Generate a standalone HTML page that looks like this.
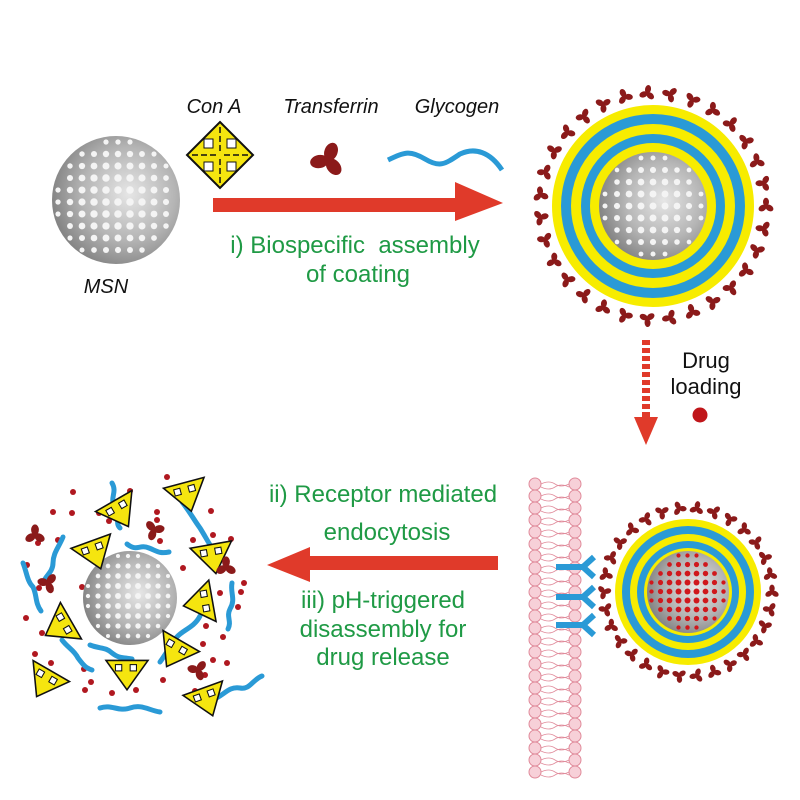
<!DOCTYPE html>
<html><head><meta charset="utf-8"><style>
html,body{margin:0;padding:0;background:#fff;width:800px;height:800px;overflow:hidden}
svg{display:block}
.it{font-family:"Liberation Sans",sans-serif;font-style:italic;font-size:20px;fill:#111}
.gr{font-family:"Liberation Sans",sans-serif;font-size:24px;fill:#1f9a45}
.bk{font-family:"Liberation Sans",sans-serif;font-size:22px;fill:#111}
</style></head><body>
<svg id="s" width="800" height="800" viewBox="0 0 800 800" xmlns="http://www.w3.org/2000/svg">
<defs>
<radialGradient id="sph" cx="0.6" cy="0.45" r="0.6">
<stop offset="0" stop-color="#e6e6e6"/><stop offset="0.6" stop-color="#b5b5b5"/><stop offset="1" stop-color="#858585"/>
</radialGradient>
<g id="tf" fill="#8b1a1a"><ellipse cx="0" cy="-4" rx="3" ry="4.2"/><ellipse cx="0" cy="-4" rx="3" ry="4.2" transform="rotate(120)"/><ellipse cx="0" cy="-4" rx="3" ry="4.2" transform="rotate(240)"/><circle r="2"/></g>
<g id="tri"><polygon points="-20,-12 20,-12 0,16" fill="#f5e50f" stroke="#111" stroke-width="1.5"/><rect x="-11" y="-8" width="6" height="6" fill="#fff" stroke="#111"/><rect x="3" y="-8" width="6" height="6" fill="#fff" stroke="#111"/></g>
</defs>
<g id="root"></g>

<text class="it" x="214" y="113" text-anchor="middle">Con A</text>
<text class="it" x="331" y="113" text-anchor="middle">Transferrin</text>
<text class="it" x="457" y="113" text-anchor="middle">Glycogen</text>
<text class="it" x="106" y="293" text-anchor="middle">MSN</text>

<g transform="translate(220,155)">
<polygon points="0,-33 33,0 0,33 -33,0" fill="#f5e50f" stroke="#111" stroke-width="2"/>
<path d="M0,-28V-4M0,4V28M-28,0H-4M4,0H28" stroke="#111" stroke-width="1.5" stroke-dasharray="6,3"/>
<rect x="-16" y="-16" width="9" height="9" fill="#fff" stroke="#111"/><rect x="7" y="-16" width="9" height="9" fill="#fff" stroke="#111"/>
<rect x="-16" y="7" width="9" height="9" fill="#fff" stroke="#111"/><rect x="7" y="7" width="9" height="9" fill="#fff" stroke="#111"/>
</g>
<use href="#tf" transform="translate(328,160) rotate(20) scale(2.2)"/>
<path d="M388,160 C405,152 410,150 425,159 C440,168 445,164 460,154 C475,147 490,152 502,170" fill="none" stroke="#2a9ad6" stroke-width="5"/>

<polygon points="213,198 455,198 455,182 503,203 455,221 455,212 213,212" fill="#e03a2a"/>
<text class="gr" x="355" y="253" text-anchor="middle">i) Biospecific&#160; assembly</text>
<text class="gr" x="358" y="282" text-anchor="middle">of coating</text>

<path d="M646,340 V418" stroke="#e03a2a" stroke-width="8" stroke-dasharray="5,3"/>
<polygon points="634,417 658,417 646,445" fill="#e03a2a"/>
<text class="bk" x="706" y="368" text-anchor="middle">Drug</text>
<text class="bk" x="706" y="394" text-anchor="middle">loading</text>
<circle cx="700" cy="415" r="7.5" fill="#c0161a"/>

<polygon points="498,556 310,556 310,547 267,565 310,582 310,570 498,570" fill="#e03a2a"/>
<text class="gr" x="383" y="502" text-anchor="middle">ii) Receptor mediated</text>
<text class="gr" x="387" y="540" text-anchor="middle">endocytosis</text>
<text class="gr" x="383" y="608" text-anchor="middle">iii) pH-triggered</text>
<text class="gr" x="383" y="637" text-anchor="middle">disassembly for</text>
<text class="gr" x="383" y="665" text-anchor="middle">drug release</text>
</svg>
<script>
var R=document.getElementById('root'),NS='http://www.w3.org/2000/svg';
function el(t,a,p){var e=document.createElementNS(NS,t);for(var k in a)e.setAttribute(k,a[k]);(p||R).appendChild(e);return e;}
function sphere(cx,cy,r,dotCol,step,dr){
 el('circle',{cx:cx,cy:cy,r:r,fill:'url(#sph)'});
 for(var y=-r;y<=r;y+=step)for(var x=-r;x<=r;x+=step){var d=Math.hypot(x+step/2,y+step/2);if(d<r-3)el('circle',{cx:cx+x+step/2,cy:cy+y+step/2,r:dr*(1-0.4*Math.pow(d/r,3)),fill:dotCol});}
}
sphere(116,200,64,'#f4f4f4',12,3.8);
function coated(cx,cy,rings,inner,dotCol,step,dr,tfR,n,sc){
 var cols=['#f7ec00','#2a9ad6','#f7ec00','#2a9ad6','#f7ec00'];
 for(var i=0;i<rings.length;i++)el('circle',{cx:cx,cy:cy,r:rings[i],fill:cols[i]});
 sphere(cx,cy,inner,dotCol,step,dr);
 for(var k=0;k<n;k++){var a=k/n*2*Math.PI;el('use',{href:'#tf',transform:'translate('+(cx+tfR*Math.cos(a))+','+(cy+tfR*Math.sin(a))+') rotate('+(k*37)+') scale('+sc+')'});}
}
coated(653,206,[101,92,82,72,63],54,'#f4f4f4',12,3.5,113,31,1.0);
for(var y=484;y<780;y+=12){
 el('circle',{cx:535,cy:y,r:6,fill:'#f7d0d8',stroke:'#e08a9a','stroke-width':1});
 el('circle',{cx:575,cy:y,r:6,fill:'#f7d0d8',stroke:'#e08a9a','stroke-width':1});
 el('path',{d:'M541,'+y+' q8,-4 14,0 t14,0 M541,'+(y+3)+' q8,4 14,0 t14,0',fill:'none',stroke:'#e08a9a','stroke-width':0.8});
}
coated(688,592,[73,66,58,51,44],41,'#d0181c',9,3,84,30,0.9);
[567,597,625].forEach(function(y){el('path',{d:'M556,'+y+' H583 L594,'+(y-10)+' M583,'+y+' L594,'+(y+10),fill:'none',stroke:'#2a9ad6','stroke-width':6});});
var dots=[[73,492],[167,477],[130,491],[53,512],[72,513],[99,513],[157,512],[157,520],[160,541],[211,511],[213,535],[193,540],[231,539],[38,543],[58,540],[109,521],[27,565],[39,588],[82,587],[26,618],[42,633],[57,627],[35,654],[51,663],[52,681],[84,669],[85,690],[91,682],[112,693],[136,690],[131,678],[163,680],[195,691],[205,675],[213,660],[223,637],[241,592],[220,593],[206,626],[180,647],[227,663],[203,644],[238,607],[244,583],[183,568],[222,569],[196,600]];
dots.forEach(function(d){el('circle',{cx:d[0],cy:d[1],r:3,fill:'#b01820'});});
sphere(130,598,47,'#f4f4f4',10,3);
var waves=["M112,483 c6,10 -4,16 4,25 c6,8 -2,14 4,20","M182,502 c8,10 12,18 18,26 c5,8 8,14 12,20","M127,544 c10,8 12,0 22,4 c8,3 10,6 20,4","M63,537 c-4,10 -10,16 -10,26 c0,8 -6,12 -8,16","M23,563 c4,10 4,18 10,24 c4,8 2,16 8,24","M232,583 c-2,10 4,16 -2,26 c-4,8 2,12 -2,20","M200,616 c-6,12 -18,14 -24,22 c-6,8 -10,16 -16,24","M62,640 c6,8 12,10 16,18 c6,8 8,10 14,12","M90,645 c10,4 16,2 22,8 c8,6 10,4 20,6","M100,708 c12,-4 18,4 30,0 c12,-4 18,2 30,4","M212,700 c12,-4 16,-14 28,-12 c10,2 12,-8 22,-12"];
waves.forEach(function(d){el('path',{d:d,fill:'none',stroke:'#2a9ad6','stroke-width':5,'stroke-linecap':'round'});});
var tris=[[120,512,-30],[95,553,-20],[187,495,-15],[213,557,-10],[60,627,60],[200,603,80],[175,652,30],[45,682,30],[127,673,0],[207,700,-20]];
tris.forEach(function(t){el('use',{href:'#tri',transform:'translate('+t[0]+','+t[1]+') rotate('+t[2]+') scale(1.05)'});});
[[35,535],[48,583],[154,530],[226,567],[198,670]].forEach(function(p,i){el('use',{href:'#tf',transform:'translate('+p[0]+','+p[1]+') rotate('+(i*40)+') scale(1.3)'});});
</script>
</body></html>
